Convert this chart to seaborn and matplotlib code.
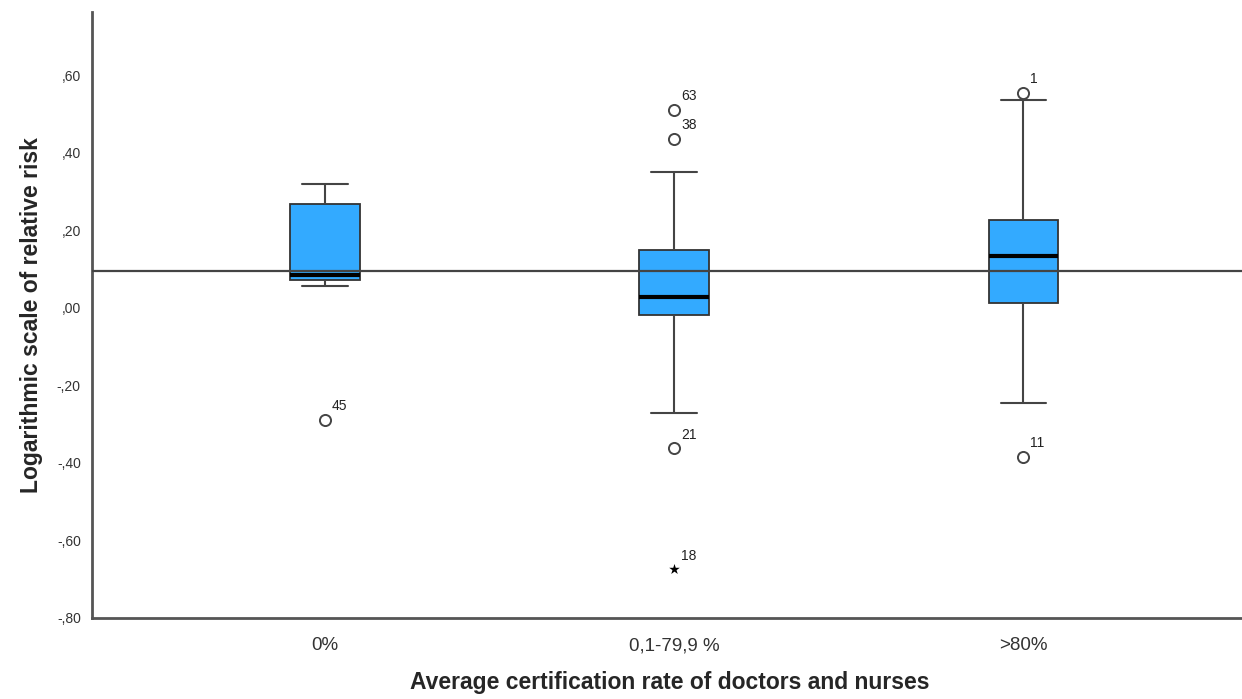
import numpy             as np
import pandas            as pd
import seaborn           as sns
import matplotlib.pyplot as plt

groups       = ['0%', '0,1-79,9 %', '>80%']
whisker_low  = [0.057, -0.271, -0.247]
q1           = [0.072, -0.020,  0.013]
median       = [0.085,  0.028,  0.134]
q3           = [0.268,  0.149,  0.227]
whisker_high = [0.320,  0.349,  0.536]

out_group = ['0%', '0,1-79,9 %', '0,1-79,9 %', '0,1-79,9 %', '0,1-79,9 %', '>80%', '>80%']
out_value = [-0.289, 0.510, 0.436, -0.363, -0.675, 0.553, -0.384]
out_case  = ['45', '63', '38', '21', '18', '1', '11']
out_kind  = ['o', 'o', 'o', 'o', '*', 'o', 'o']

ref_line = 0.095

# five-number summary per group -> boxplot with whiskers at min/max
rows = []
for i, g in enumerate(groups):
    for v in (whisker_low[i], q1[i], median[i], q3[i], whisker_high[i]):
        rows.append((g, v))
box_df = pd.DataFrame(rows, columns=['group', 'value'])
out_df = pd.DataFrame({'group': out_group, 'value': out_value,
                       'case': out_case, 'kind': out_kind})

sns.set_style('white')
plt.rcParams['font.family'] = ['Liberation Sans', 'DejaVu Sans']

fig = plt.figure(figsize=(12.42, 6.99), dpi=100)
ax  = fig.add_axes([0.074, 0.116, 0.93, 0.867])

sns.boxplot(data=box_df, x='group', y='value', order=groups, ax=ax,
            whis=(0, 100), showfliers=False, width=0.2, color='#33aaff',
            saturation=1, linewidth=1.3, linecolor='#333333', capwidths=0.13,
            boxprops=dict(facecolor='#33aaff', edgecolor='#333333', zorder=2),
            medianprops=dict(color='black', linewidth=3),
            whiskerprops=dict(color='#444444', linewidth=1.5),
            capprops=dict(color='#444444', linewidth=1.5))

ax.axhline(ref_line, color='#444444', linewidth=1.6, zorder=5)

circ = out_df[out_df['kind'] == 'o']
star = out_df[out_df['kind'] == '*']
sns.stripplot(data=circ, x='group', y='value', order=groups, ax=ax, jitter=False,
              marker='o', size=8, facecolor='white', edgecolor='#444444',
              linewidth=1.4, zorder=6)
sns.stripplot(data=star, x='group', y='value', order=groups, ax=ax, jitter=False,
              marker='*', size=8, color='black', zorder=6)

for g, v, c in zip(out_group, out_value, out_case):
    ax.annotate(c, (groups.index(g), v), xytext=(5, 5), textcoords='offset points',
                ha='left', va='bottom', fontsize=10, color='#222222')

ax.set_xlim(-0.667, 2.64)
ax.set_ylim(-0.80, 0.763)
yt = np.round(np.arange(-0.8, 0.61, 0.2), 2) + 0.0
ax.set_yticks(yt)
ax.set_yticklabels([f'{abs(t):.2f}'.replace('0.', '-,' if t < 0 else ',') for t in yt],
                   fontsize=10, color='#333333')
ax.tick_params(axis='x', labelsize=13.5, colors='#333333', length=0, pad=14)
ax.tick_params(axis='y', length=0, pad=8)

sns.despine(ax=ax)
for s in ('left', 'bottom'):
    ax.spines[s].set_color('#555555')
    ax.spines[s].set_linewidth(2)

ax.set_xlabel('Average certification rate of doctors and nurses',
              fontsize=16.5, fontweight='bold', labelpad=12)
ax.set_ylabel('Logarithmic scale of relative risk', fontsize=16.5, fontweight='bold', labelpad=10)

fig.savefig('out.png', dpi=100)
